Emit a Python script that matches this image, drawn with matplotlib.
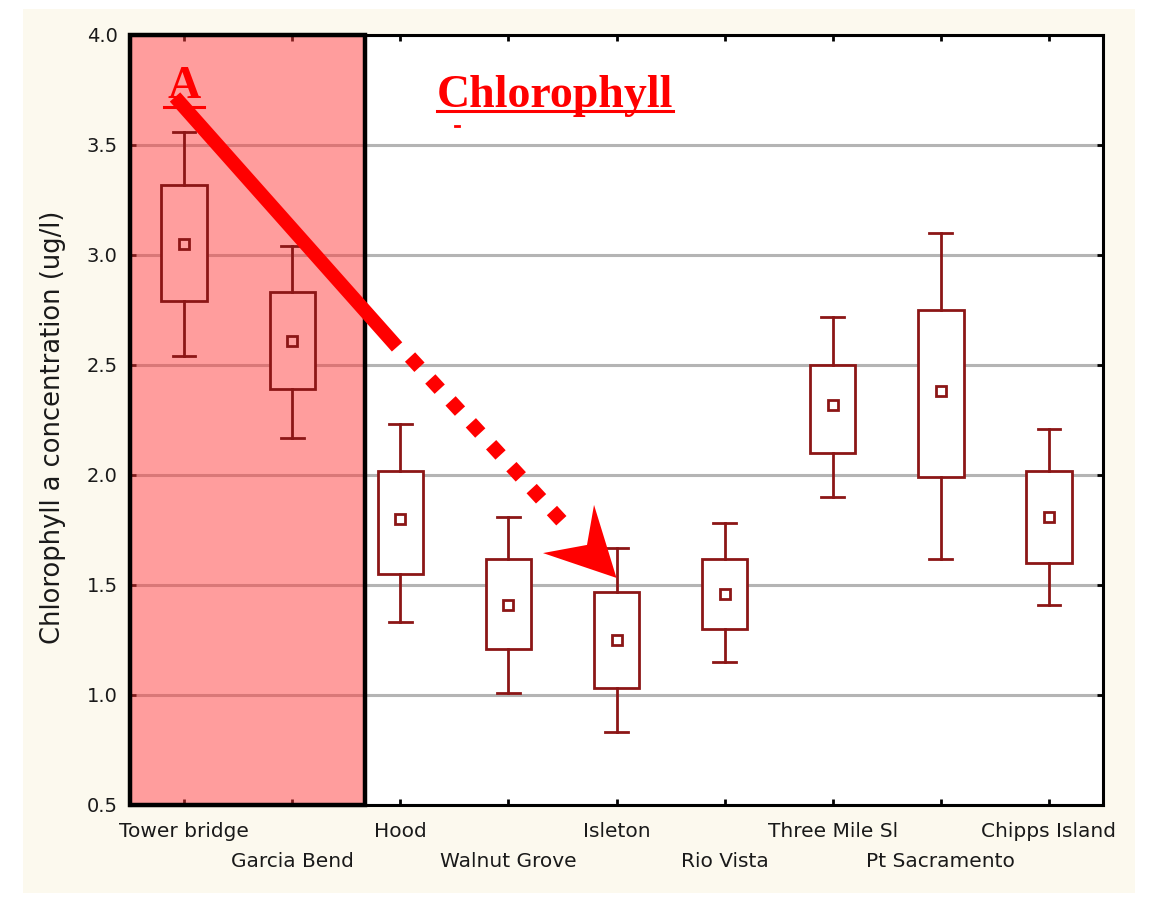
import numpy as np
import matplotlib
matplotlib.use("Agg")
import matplotlib.pyplot as plt
from matplotlib.patches import Rectangle, Polygon

# --------------------

stations = ["Tower bridge", "Garcia Bend", "Hood", "Walnut Grove", "Isleton",
            "Rio Vista", "Three Mile Sl", "Pt Sacramento", "Chipps Island"]

# chlorophyll a (ug/l): mean, box (+/- SE) and whiskers (+/- 1.96 SE)
means   = [3.05, 2.61, 1.80, 1.41, 1.25, 1.46, 2.32, 2.38, 1.81]
box_lo  = [2.79, 2.39, 1.55, 1.21, 1.03, 1.30, 2.10, 1.99, 1.60]
box_hi  = [3.32, 2.83, 2.02, 1.62, 1.47, 1.62, 2.50, 2.75, 2.02]
whis_lo = [2.54, 2.17, 1.33, 1.01, 0.83, 1.15, 1.90, 1.62, 1.41]
whis_hi = [3.56, 3.04, 2.23, 1.81, 1.67, 1.78, 2.72, 3.10, 2.21]

y_ticks = [0.5, 1.0, 1.5, 2.0, 2.5, 3.0, 3.5, 4.0]

# upstream stations shaded, trend arrow from A down to Isleton
shade_end = 1.674
trend_solid = ([-0.084, 1.97], [3.718, 2.582])
trend_dots = ([2.09, 3.55], [2.536, 1.76])
arrow_head = [(4.0, 1.532), (3.32, 1.645), (3.727, 1.682), (3.792, 1.864)]

box_color = "#8c1616"
red = "#ff0000"

# --------------------

fig = plt.figure(figsize=(11.53, 8.99), dpi=100, facecolor="white")
fig.patches.append(Rectangle((0.020, 0.0067), 0.9644, 0.9833, transform=fig.transFigure,
                             facecolor="#fcf9ee", edgecolor="none", zorder=-10))

ax = fig.add_axes([0.1128, 0.1046, 0.8438, 0.8565])
ax.set_facecolor("white")

stats = []
for i, name in enumerate(stations):
    stats.append(dict(label=name, mean=means[i], med=means[i], q1=box_lo[i], q3=box_hi[i],
                      whislo=whis_lo[i], whishi=whis_hi[i]))

pos = np.arange(len(stations))
bp = ax.bxp(stats, positions=pos, widths=0.42, capwidths=0.21, patch_artist=True,
            showmeans=True, showfliers=False, manage_ticks=False,
            boxprops=dict(edgecolor=box_color, linewidth=2.0, facecolor="white"),
            whiskerprops=dict(color=box_color, linewidth=2.0),
            capprops=dict(color=box_color, linewidth=2.0),
            medianprops=dict(linestyle="none"),
            meanprops=dict(marker="s", markersize=7, markerfacecolor="none",
                           markeredgecolor=box_color, markeredgewidth=2.0))
for i, b in enumerate(bp["boxes"]):
    b.set_zorder(3)
    if pos[i] < shade_end:
        b.set_facecolor("#ff9e9e")
for k in ["whiskers", "caps", "means"]:
    for a in bp[k]:
        a.set_zorder(3)

# shaded upstream block with its own heavy frame
ax.add_patch(Rectangle((-0.5, 0.5), shade_end + 0.5, 3.5, facecolor=(1, 0.24, 0.24, 0.5),
                       edgecolor="black", linewidth=3.2, zorder=1.5, clip_on=False))

# axes - station names staggered on two rows (even on major, odd on minor ticks)
ax.set_xlim(-0.5, 8.5)
ax.set_ylim(0.5, 4.0)
ax.set_yticks(y_ticks)
ax.set_yticklabels([f"{v:.1f}" for v in y_ticks])
ax.set_xticks(pos[::2])
ax.set_xticklabels(stations[::2])
ax.set_xticks(pos[1::2], minor=True)
ax.set_xticklabels(stations[1::2], minor=True)
ax.tick_params(axis="x", which="both", direction="in", length=4, width=2, top=True,
               labelsize=14.5, labelcolor="#1a1a1a")
ax.tick_params(axis="x", which="major", pad=12)
ax.tick_params(axis="x", which="minor", pad=34)
ax.tick_params(axis="y", direction="in", length=4, width=2, right=True, pad=9,
               labelsize=14, labelcolor="#1a1a1a")
for s in ax.spines.values():
    s.set_linewidth(2.2)
    s.set_color("black")
ax.yaxis.grid(True, color="#b4b4b4", linewidth=2.2, zorder=0.5)
ax.set_axisbelow(True)

ax.set_ylabel("Chlorophyll a concentration (ug/l)", fontsize=18.5, color="#1a1a1a")
ax.yaxis.set_label_coords(-0.066, 0.49)

# trend arrow
ax.plot(*trend_solid, color=red, linewidth=10, solid_capstyle="butt", zorder=5)
ax.plot(*trend_dots, color=red, linewidth=10, linestyle=(0, (1, 1.15)),
        dash_capstyle="butt", zorder=5)
ax.add_patch(Polygon(arrow_head, closed=True, facecolor=red, edgecolor="none", zorder=5))

# red serif labels with underline
serif = ["Liberation Serif", "DejaVu Serif"]
t_a = ax.text(0.0, 3.714, "A", color=red, fontsize=33, fontweight="bold", family=serif,
              ha="center", va="baseline", zorder=4)
t_title = ax.text(2.34, 3.673, "Chlorophyll", color=red, fontsize=33, fontweight="bold",
                  family=serif, ha="left", va="baseline", zorder=4)

fig.canvas.draw()
inv = ax.transData.inverted()
for t, yl, extra in [(t_a, 3.673, 0.03), (t_title, 3.655, 0.0)]:
    bb = t.get_window_extent()
    x0 = inv.transform((bb.x0, bb.y0))[0] - extra
    x1 = inv.transform((bb.x1, bb.y0))[0] + extra
    ax.plot([x0, x1], [yl, yl], color=red, linewidth=2.2, zorder=4)
ax.plot([2.51, 2.54], [3.585, 3.585], color=red, linewidth=2, zorder=4)

plt.savefig("out.png", dpi=100, facecolor=fig.get_facecolor())
